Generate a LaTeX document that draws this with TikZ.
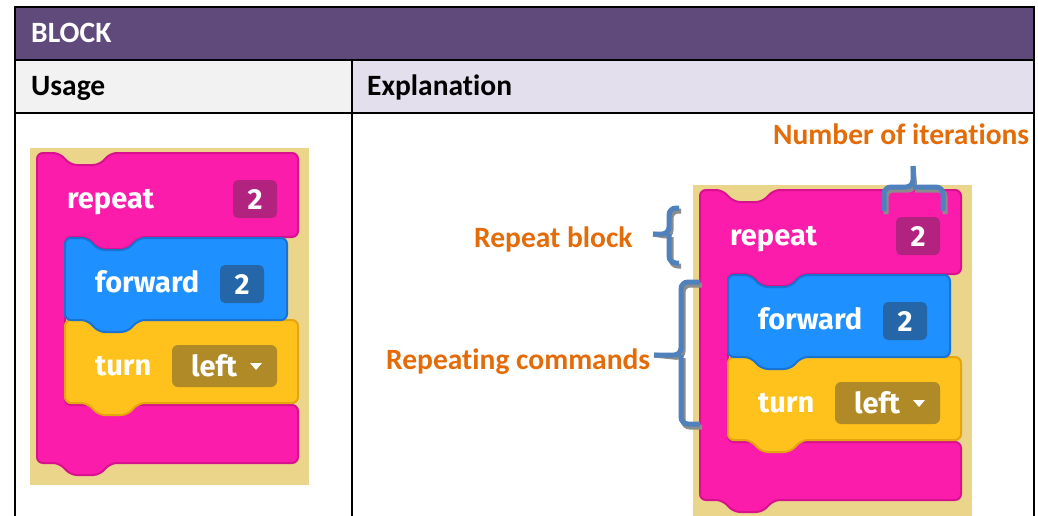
\documentclass[tikz,border=0pt]{standalone}
\usepackage{fontspec}
\setmainfont{Carlito}[Ligatures=NoCommon]
\newfontfamily\blockfont{Fira Sans}

\definecolor{hdrpurple}{HTML}{5F4A7B}
\definecolor{usagegray}{HTML}{F2F2F2}
\definecolor{explilac}{HTML}{E4DFEC}
\definecolor{lblorange}{HTML}{E36C09}
\definecolor{braceblue}{HTML}{4F81BD}
\definecolor{bracegray}{HTML}{8C8C8C}
\definecolor{beige}{HTML}{EAD58A}
\definecolor{pinkblk}{HTML}{FC1CAB}
\definecolor{pinkline}{HTML}{D8128E}
\definecolor{pinknum}{HTML}{B2227F}
\definecolor{blueblk}{HTML}{1E90FF}
\definecolor{blueline}{HTML}{1873D3}
\definecolor{bluenum}{HTML}{2466A8}
\definecolor{yellowblk}{HTML}{FFC21C}
\definecolor{yellowline}{HTML}{E5A50F}
\definecolor{dropbrown}{HTML}{AF8A27}

\tikzset{
  blocktext/.style={text=white, inner sep=0, font=\blockfont\bfseries\fontsize{29}{31}\selectfont},
  numbox/.style={blocktext, rounded corners=5, minimum width=44, minimum height=38},
  blocksample/.pic={
    \fill[beige] (0,0) rectangle (279,337);
    % repeat block, C shaped
    \draw[pinkline, fill=pinkblk, line width=2, rounded corners=6]
      (7,5) -- (29,5) -- (41,17) -- (69,17) -- (81,5) -- (268,5) -- (268,89)
      -- (109,89) -- (97,101) -- (69,101) -- (57,89) -- (35,89) -- (35,257)
      -- (268,257) -- (268,315) -- (81,315) -- (69,327) -- (41,327) -- (29,315)
      -- (7,315) -- cycle;
    % turn block
    \draw[yellowline, fill=yellowblk, line width=2, rounded corners=6]
      (35,172) -- (268,172) -- (268,255) -- (109,255) -- (97,267) -- (69,267)
      -- (57,255) -- (35,255) -- cycle;
    % forward block
    \draw[blueline, fill=blueblk, line width=2, rounded corners=6]
      (35,90) -- (57,90) -- (69,102) -- (97,102) -- (109,90) -- (257,90)
      -- (257,172) -- (109,172) -- (97,184) -- (69,184) -- (57,172) -- (35,172) -- cycle;

    \node[blocktext, anchor=base west] (rpt) at (37,60) {repeat};
    \node[numbox, fill=pinknum] (rptnum) at (225,51) {2};
    \node[blocktext, anchor=base west] (fwd) at (65,144) {forward};
    \node[numbox, fill=bluenum] (fwdnum) at (212,136) {2};
    \node[blocktext, anchor=base west] (trn) at (65,227) {turn};
    \fill[dropbrown, rounded corners=6] (142,197) rectangle (247,239);
    \node[blocktext, anchor=base] (dir) at (184,228) {left};
    \fill[white] (220,215) -- (232,215) -- (226,222) -- cycle;
  }
}

\begin{document}
\begin{tikzpicture}[x=1pt, y=-1pt,
  hdr/.style={anchor=base west, inner sep=0, font=\bfseries\fontsize{29.5}{32}\selectfont},
  lbl/.style={anchor=base west, inner sep=0, text=lblorange, font=\bfseries\fontsize{29.5}{32}\selectfont},
  grid/.style={line width=2}]

\useasboundingbox (0,0) rectangle (1038,516);
\clip (0,0) rectangle (1038,516);
\fill[white] (0,0) rectangle (1038,516);

% table cells
\fill[hdrpurple] (15,7) rectangle (1034,60);
\fill[usagegray] (15,60) rectangle (352,113);
\fill[explilac] (352,60) rectangle (1034,113);
\draw[grid] (15,530) -- (15,7) -- (1034,7) -- (1034,530);
\draw[grid] (15,60) -- (1034,60);
\draw[grid] (15,113) -- (1034,113);
\draw[grid] (352,60) -- (352,530);

\node[hdr, text=white] (block) at (31,43) {BLOCK};
\node[hdr] (usage) at (31,96) {Usage};
\node[hdr] (expl) at (367,96) {Explanation};

% the two block pictures
\pic (left) at (30,148) {blocksample};
\pic (right) at (693,185) {blocksample};

% labels
\node[lbl] (iterlbl) at (773,144) {Number of iterations};
\node[lbl] (rptlbl) at (474,247) {Repeat block};
\node[lbl] (cmdlbl) at (386,369) {Repeating commands};

\coordinate (itertip) at (913,166);
\coordinate (rpttip) at (653,234);
\coordinate (cmdtip) at (654,355);

% braces with shadow
\foreach \col/\dx/\dy in {bracegray/2/-3, braceblue/0/0} {
  \begin{scope}[xshift=\dx pt, yshift=\dy pt, draw=\col, line width=5, rounded corners=7]
    \draw (884,211) -- (884,187) -- (913,187) -- (itertip);
    \draw (913,187) -- (943,187) -- (943,211);
    \draw (679,208) -- (669,208) -- (669,234) -- (rpttip);
    \draw (669,234) -- (669,263) -- (679,263);
    \draw (700,282) -- (681,282) -- (681,355) -- (cmdtip);
    \draw (681,355) -- (681,424) -- (700,424);
  \end{scope}
}

\end{tikzpicture}
\end{document}
